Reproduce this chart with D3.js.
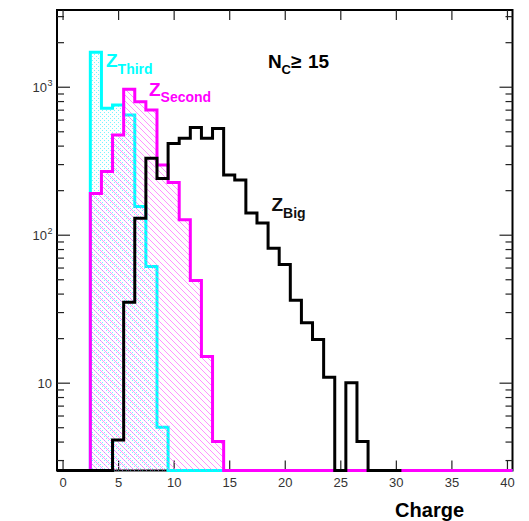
<!DOCTYPE html>
<html><head><meta charset="utf-8">
<script src="https://d3js.org/d3.v7.min.js"></script>
<style>body{margin:0;background:#fff}</style>
</head><body>
<svg id="c" width="529" height="521"></svg>
<script>
// ---- data (bin centres = integer charges, width 1) ----
const chargesThird  = [0,1,2,3,4,5,6,7,8,9,10,11,12,13,14,15,16,17,18,19,20,21,22,23,24,25,26,27,28,29,30,31,32,33,34,35,36,37,38,39,40];
const zThird        = [0,0,0,1710,715,752,645,155,61,5.0,0,0,0,0,0,0,0,0,0,0,0,0,0,0,0,0,0,0,0,0,0,0,0,0,0,0,0,0,0,0,0];
const chargesSecond = [0,1,2,3,4,5,6,7,8,9,10,11,12,13,14,15,16,17,18,19,20,21,22,23,24,25,26,27,28,29,30,31,32,33,34,35,36,37,38,39,40];
const zSecond       = [0,0,0,190,267,472,960,792,695,296,225,126,49,15,4.0,0,0,0,0,0,0,0,0,0,0,0,0,0,0,0,0,0,0,0,0,0,0,0,0,0,0];
const chargesBig    = [0,1,2,3,4,5,6,7,8,9,10,11,12,13,14,15,16,17,18,19,20,21,22,23,24,25,26,27,28,29,30];
const zBig          = [0,0,0,0,0,4.1,35,129,328,240,414,448,531,448,523,253,234,140,120,81,63,36,25.4,19.6,10.9,0,10,4.0,0,0,0];
const xTickValues   = [0,5,10,15,20,25,30,35,40];
const yMajorTicks   = [10,100,1000];
const yMajorLabels  = [["10",""],["10","2"],["10","3"]];
const yMinorTicks   = [3,4,5,6,7,8,9,20,30,40,50,60,70,80,90,200,300,400,500,600,700,800,900,2000,3000];

const svg = d3.select("#c");
const L=57, R=512.5, T=10, B=470.5;
const x = d3.scaleLinear().domain([-0.5,40.5]).range([L,R]);
const yMin = 2.55;
const y = d3.scaleLog().domain([yMin,3300]).range([B,T]);
const font = "'Liberation Sans', Arial, Helvetica, sans-serif";

// patterns
const defs = svg.append("defs");
const pd = defs.append("pattern").attr("id","dots").attr("patternUnits","userSpaceOnUse")
  .attr("width",4).attr("height",4);
pd.append("rect").attr("x",0).attr("y",0).attr("width",1).attr("height",1).attr("fill","#55f0ff").attr("fill-opacity",0.8);
pd.append("rect").attr("x",2).attr("y",2).attr("width",1).attr("height",1).attr("fill","#55f0ff").attr("fill-opacity",0.8);
const ph = defs.append("pattern").attr("id","hatch").attr("patternUnits","userSpaceOnUse")
  .attr("width",6).attr("height",6);
ph.append("path").attr("d","M-1,-1 L7,7 M-1,5 L1,7 M5,-1 L7,1")
  .attr("stroke","#ff55ff").attr("stroke-width",0.9).attr("stroke-opacity",0.7).attr("fill","none");

// frame first (histogram outlines lie on top of it)
svg.append("rect").attr("x",L).attr("y",T).attr("width",R-L).attr("height",B-T)
  .attr("fill","none").attr("stroke","#000").attr("stroke-width",2);

function stepPoints(charges, vals){
  const pts=[[x(charges[0]-0.5), B]];
  vals.forEach((v,i)=>{
    const yy = v>0 ? y(Math.max(v,yMin)) : B;
    pts.push([x(charges[i]-0.5),yy],[x(charges[i]+0.5),yy]);
  });
  pts.push([x(charges[charges.length-1]+0.5), B]);
  return pts;
}
const line = d3.line();

function drawHist(charges, vals, color, fill){
  const pts = stepPoints(charges, vals);
  if (fill) svg.append("path").attr("d", line(pts)+"Z").attr("fill",fill).attr("stroke","none");
  svg.append("path").attr("d", line(pts)).attr("fill","none").attr("stroke",color)
    .attr("stroke-width",3).attr("stroke-linejoin","miter");
}

// axes
function styleAxis(g){
  g.select(".domain").remove();
  g.selectAll(".tick line").attr("stroke","#222").attr("stroke-width",1.2);
  g.selectAll("text").attr("font-family",font).attr("font-size",13).attr("fill","#333");
}
svg.append("g").attr("transform",`translate(0,${B})`)
  .call(d3.axisBottom(x).tickValues(xTickValues).tickSize(-10).tickPadding(7).tickFormat(d3.format("d")))
  .call(styleAxis);
svg.append("g").attr("transform",`translate(0,${T})`)
  .call(d3.axisTop(x).tickValues(xTickValues).tickSize(-10).tickFormat(""))
  .call(styleAxis);
const yl = svg.append("g").attr("transform",`translate(${L},0)`)
  .call(d3.axisLeft(y).tickValues(yMajorTicks).tickSize(-13).tickPadding(6).tickFormat(""))
  .call(styleAxis);
svg.append("g").attr("transform",`translate(${L},0)`)
  .call(d3.axisLeft(y).tickValues(yMinorTicks).tickSize(-7).tickFormat(""))
  .call(styleAxis);
svg.append("g").attr("transform",`translate(${R},0)`)
  .call(d3.axisRight(y).tickValues(yMajorTicks).tickSize(-13).tickFormat(""))
  .call(styleAxis);
svg.append("g").attr("transform",`translate(${R},0)`)
  .call(d3.axisRight(y).tickValues(yMinorTicks).tickSize(-7).tickFormat(""))
  .call(styleAxis);
// y labels with superscripts
yl.selectAll(".tick").each(function(d,i){
  const lab = yMajorLabels[i];
  const t = d3.select(this).append("text").attr("font-family",font).attr("font-size",13)
    .attr("fill","#333").attr("text-anchor","end").attr("x", lab[1] ? -10 : -5).attr("y",5);
  t.text(lab[0]);
  if (lab[1]) d3.select(this).append("text").attr("font-family",font).attr("font-size",9)
    .attr("fill","#333").attr("text-anchor","start").attr("x",-9.5).attr("y",-1).text(lab[1]);
});

drawHist(chargesThird, zThird, "#00ffff", "url(#dots)");
drawHist(chargesSecond, zSecond, "#ff00ff", "url(#hatch)");
drawHist(chargesBig, zBig, "#000000", null);

// labels
function label(xp, yp, color, main, sub, subDy){
  const t = svg.append("text").attr("x",xp).attr("y",yp).attr("fill",color)
    .attr("font-family",font).attr("font-weight","bold").attr("font-size",19);
  t.append("tspan").text(main);
  t.append("tspan").attr("font-size",14).attr("dy",subDy).text(sub);
}
label(106, 67, "#00ffff", "Z", "Third", 6.5);
label(149, 96, "#ff00ff", "Z", "Second", 5.5);
label(271.5, 211, "#111", "Z", "Big", 7);

const nc = svg.append("text").attr("y",67.5).attr("fill","#000")
  .attr("font-family",font).attr("font-weight","bold").attr("font-size",19);
nc.append("tspan").attr("x",268).text("N");
nc.append("tspan").attr("x",281.5).attr("font-size",13).attr("dy",6).text("C");
nc.append("tspan").attr("x",291).attr("dy",-6).text("\u2265");
nc.append("tspan").attr("x",308).text("15");

svg.append("text").attr("x",464).attr("y",517).attr("text-anchor","end")
  .attr("font-family",font).attr("font-weight","bold").attr("font-size",20).attr("fill","#000")
  .text("Charge");
</script>
</body></html>
